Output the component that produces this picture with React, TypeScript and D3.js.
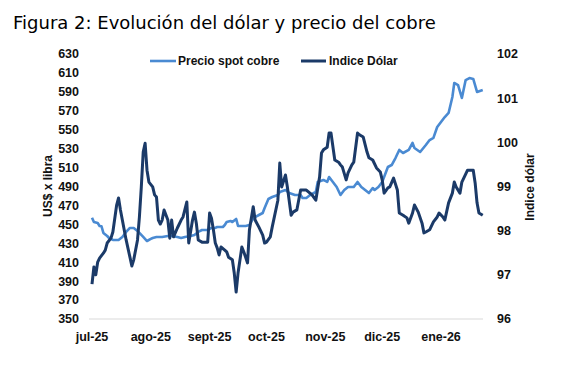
import React from "react";
import * as d3 from "d3";

const START_DATE = "2025-07-01";
const monthTickDates = ["2025-07-01", "2025-08-01", "2025-09-01", "2025-10-01", "2025-11-01", "2025-12-01", "2026-01-01"];
const monthLabels = ["jul-25", "ago-25", "sept-25", "oct-25", "nov-25", "dic-25", "ene-26"];
const leftTicks = [350, 370, 390, 410, 430, 450, 470, 490, 510, 530, 550, 570, 590, 610, 630];
const rightTicks = [96, 97, 98, 99, 100, 101, 102];

// days since START_DATE
const copperDays = [0,1,3,4,5,6,8,9,11,14,16,18,20,22,24,25,27,29,31,32,34,37,40,42,45,47,49,52,54,56,58,61,63,65,66,69,70,71,73,74,76,77,78,81,83,85,88,90,91,93,95,98,99,102,104,107,110,111,113,115,118,119,122,124,125,127,129,131,133,135,138,140,142,144,146,148,149,151,153,156,158,160,162,164,167,169,170,173,176,178,180,182,184,186,188,190,191,193,195,197,199,201,203,206];
const copperValues = [457,452.5,451.5,448.3,448,440.9,437.7,435.6,433.5,433.5,436.7,442,446.2,446.2,443,440.9,436.7,432.4,434.6,435.6,436.7,436.7,437.7,437.7,436.7,435.6,436.7,437.7,438.8,442,444,444,446.2,446.2,447.2,447.2,449.3,452.5,453.6,452.5,455.7,448.3,448.3,448.3,449.3,456.7,459.9,462,467.3,476.8,478.9,481,484.2,486.3,483.1,481,481,477.9,477.9,481,484.2,494.8,496.9,494.8,500,494.8,489.5,481,486.3,489.5,489.5,494.8,489.5,486.3,483.1,488.4,486.3,489.5,494.8,510.6,512.7,520.1,528.6,525.4,528.6,536,530.7,526.5,533.9,539.1,541.3,552.9,558.2,563.4,567.7,584.6,599.4,597.2,583.5,602.5,604.6,603.6,589.9,592];

const dollarDays = [0,1,2,3,4,6,7,8,10,11,13,14,15,16,18,20,21,22,24,25,26,27,28,29,30,32,33,34,35,36,37,38,40,41,42,43,45,47,48,50,51,53,54,55,56,58,61,62,63,64,65,66,67,68,70,71,72,74,75,76,77,79,80,81,82,83,85,86,88,90,91,92,94,95,98,99,100,102,103,105,106,108,110,113,116,118,120,121,122,124,125,126,128,130,131,132,134,135,137,138,140,141,143,145,146,148,150,152,153,154,156,157,159,161,162,164,166,167,169,170,172,174,175,176,178,180,182,183,185,186,188,190,191,192,194,195,196,198,199,201,202,203,204,206];
const dollarValues = [96.79,97.18,97.0,97.29,97.38,97.49,97.56,97.72,97.83,97.97,98.58,98.74,98.47,98.24,97.79,97.4,97.2,97.34,97.79,98.31,98.99,99.78,99.98,99.37,99.1,98.99,98.81,98.76,98.24,98.15,98.24,98.47,98.24,97.83,98.24,97.86,98.06,98.24,98.31,98.65,97.72,98.24,98.42,98.17,97.79,97.74,97.74,98.4,98.28,98.02,97.72,97.61,97.45,97.63,97.56,97.52,97.4,97.34,97.04,96.61,97.04,97.63,97.52,97.4,97.27,98.02,98.54,98.24,98.08,97.9,97.72,97.74,97.86,98.08,98.69,99.53,98.99,99.26,98.99,98.35,98.42,98.47,98.92,98.92,98.81,98.69,99.22,99.76,99.83,99.89,100.21,100.21,99.6,99.55,99.49,99.44,99.15,99.31,99.49,99.55,100.21,100.17,100.12,99.78,99.65,99.6,99.42,99.33,99.15,98.85,98.97,98.99,99.19,98.92,98.4,98.35,98.29,98.17,98.4,98.58,98.42,98.17,97.95,97.97,98.02,98.2,98.31,98.4,98.31,98.24,98.63,98.85,99.1,98.99,98.85,99.1,99.19,99.37,99.37,99.37,99.08,98.63,98.4,98.35];

const LIGHT = "#4A8AD2";
const DARK = "#1B3A68";
const LABEL_FONT = "'Liberation Sans', Arial, sans-serif";

export default function App() {
  const parse = d3.timeParse("%Y-%m-%d");
  const start = parse(START_DATE) as Date;
  const tickDates = monthTickDates.map((d) => parse(d) as Date);

  const x = d3.scaleTime().domain([tickDates[0], tickDates[6]]).range([92, 441]);
  const yLeft = d3.scaleLinear().domain([350, 630]).range([319, 54]);
  const yRight = d3.scaleLinear().domain([96, 102]).range([319, 54]);

  const copper = copperDays.map((d, i) => ({ date: d3.timeDay.offset(start, d), v: copperValues[i] }));
  const dollar = dollarDays.map((d, i) => ({ date: d3.timeDay.offset(start, d), v: dollarValues[i] }));

  const copperLine = d3.line<{ date: Date; v: number }>().x((d) => x(d.date)).y((d) => yLeft(d.v));
  const dollarLine = d3.line<{ date: Date; v: number }>().x((d) => x(d.date)).y((d) => yRight(d.v));

  const labelStyle = { fontFamily: LABEL_FONT, fontWeight: 700, fontSize: 12.5, fill: "#111" } as const;
  const legendStyle = { ...labelStyle, fontSize: 12 } as const;

  return (
    <svg width={571} height={376} style={{ position: "absolute", left: 0, top: 0, background: "#fff" }}>
      <rect x={0} y={0} width={571} height={376} fill="#fff" />
      <text x={13} y={29} style={{ fontFamily: "'DejaVu Sans', Verdana, sans-serif", fontSize: 18, fill: "#000" }}>
        Figura 2: Evolución del dólar y precio del cobre
      </text>

      {/* baseline */}
      <line x1={89} x2={483} y1={yLeft(350)} y2={yLeft(350)} stroke="#d9d9d9" strokeWidth={1} />

      {/* left ticks */}
      {leftTicks.map((t) => (
        <text key={"l" + t} x={79} y={yLeft(t)} dy="0.35em" textAnchor="end" style={labelStyle}>
          {t}
        </text>
      ))}
      {/* right ticks */}
      {rightTicks.map((t) => (
        <text key={"r" + t} x={497} y={yRight(t)} dy="0.35em" textAnchor="start" style={labelStyle}>
          {t}
        </text>
      ))}
      {/* x labels */}
      {tickDates.map((d, i) => (
        <text key={"x" + i} x={x(d)} y={341} textAnchor="middle" style={labelStyle}>
          {monthLabels[i]}
        </text>
      ))}

      {/* axis titles */}
      <text transform="translate(48,186) rotate(-90)" textAnchor="middle" dy="0.35em" style={legendStyle}>
        US$ x libra
      </text>
      <text transform="translate(530,187) rotate(-90)" textAnchor="middle" dy="0.35em" style={legendStyle}>
        Indice dólar
      </text>

      {/* series */}
      <path d={copperLine(copper) || ""} fill="none" stroke={LIGHT} strokeWidth={2.6} strokeLinejoin="round" />
      <path d={dollarLine(dollar) || ""} fill="none" stroke={DARK} strokeWidth={3} strokeLinejoin="round" />

      {/* legend */}
      <line x1={150} x2={176} y1={61} y2={61} stroke={LIGHT} strokeWidth={2.6} />
      <text x={178} y={61} dy="0.35em" style={legendStyle}>Precio spot cobre</text>
      <line x1={301} x2={326} y1={61} y2={61} stroke={DARK} strokeWidth={3} />
      <text x={329} y={61} dy="0.35em" style={legendStyle}>Indice Dólar</text>
    </svg>
  );
}
